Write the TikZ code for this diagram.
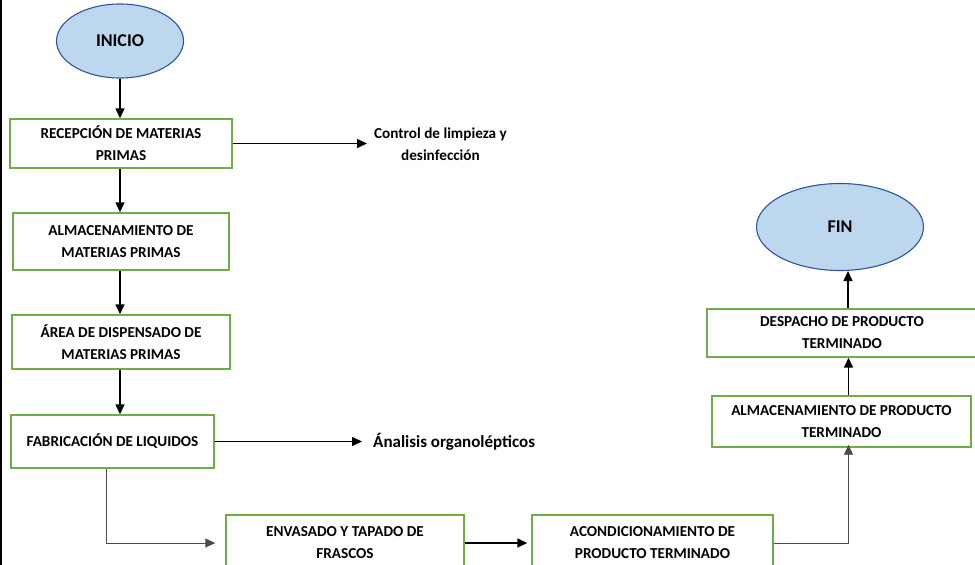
\documentclass[tikz,border=0pt]{standalone}
\usepackage{fontspec}
\setmainfont{Carlito}
\usetikzlibrary{arrows.meta,shapes.geometric}

\definecolor{boxgreen}{HTML}{70AD47}
\definecolor{termfill}{HTML}{BDD7EE}
\definecolor{termline}{HTML}{2F5597}

\begin{document}
\begin{tikzpicture}[x=1pt, y=-1pt,
          box/.style={draw=boxgreen, line width=1.4pt, fill=white, align=center, inner sep=0pt,
                      font=\fontsize{15.2}{22}\selectfont\bfseries},
          term/.style={ellipse, draw=termline, line width=1.1pt, fill=termfill, inner sep=0pt,
                       font=\fontsize{18}{22}\selectfont\bfseries},
          note/.style={align=center, anchor=west, inner sep=0pt},
          flow/.style={-{Triangle[length=10pt,width=9pt]}, line width=1.5pt},
          elbow/.style={-{Triangle[length=10pt,width=9pt]}, draw=black!70, line width=0.9pt},
        ]
          \useasboundingbox (0,0) rectangle (975,565);
          \clip (0,0) rectangle (975,565);
          \draw[line width=2pt] (1,0) -- (1,565);

          % left column
          \node[term, minimum width=127pt, minimum height=74pt] (inicio) at (120,41) {INICIO};
          \node[box, minimum width=222pt, minimum height=49pt] (recep) at (121,143.5) {RECEPCIÓN DE MATERIAS\\PRIMAS};
          \node[box, minimum width=216pt, minimum height=57pt] (almmp) at (121,241.5) {ALMACENAMIENTO DE\\MATERIAS PRIMAS};
          \node[box, minimum width=218pt, minimum height=54pt] (area) at (121,342) {ÁREA DE DISPENSADO DE\\MATERIAS PRIMAS};
          \node[box, minimum width=203pt, minimum height=53pt] (fab) at (112.5,441.5) {FABRICACIÓN DE LIQUIDOS};

          % side notes
          \node[note, font=\fontsize{15.2}{22}\selectfont\bfseries] (ctrl) at (374,144) {Control de limpieza y\\desinfección};
          \node[note, font=\fontsize{17}{20}\selectfont\bfseries] (organo) at (373,441.5) {Ánalisis organolépticos};

          % bottom row
          \node[box, minimum width=238pt, minimum height=56pt] (env) at (345,543) {ENVASADO Y TAPADO DE\\FRASCOS};
          \node[box, minimum width=241pt, minimum height=56pt] (acond) at (652.5,543) {ACONDICIONAMIENTO DE\\PRODUCTO TERMINADO};

          % right column
          \node[box, minimum width=259pt, minimum height=51pt] (almpt) at (841.5,421.5) {ALMACENAMIENTO DE PRODUCTO\\TERMINADO};
          \node[box, minimum width=270pt, minimum height=48pt] (desp) at (842,333) {DESPACHO DE PRODUCTO\\TERMINADO};
          \node[term, minimum width=167pt, minimum height=87pt] (fin) at (840,227) {FIN};

          \draw[flow] (inicio.south) -- (inicio.south |- recep.north);
          \draw[flow] (inicio.south |- recep.south) -- (inicio.south |- almmp.north);
          \draw[flow] (inicio.south |- almmp.south) -- (inicio.south |- area.north);
          \draw[flow] (inicio.south |- area.south) -- (inicio.south |- fab.north);
          \draw[flow] (recep.east) -- ([xshift=-7pt]recep.east -| ctrl.west);
          \draw[flow] (fab.east) -- ([xshift=-11pt]organo.west);
          \draw[elbow] ([xshift=-6.5pt]fab.south) |- ([xshift=-10pt]env.west);
          \draw[flow] (env) -- ([xshift=-4pt]acond.west);
          \draw[elbow] (acond.east) -| ([xshift=7pt,yshift=3pt]almpt.south);
          \draw[flow] ([xshift=7pt]almpt.north) -- ([xshift=7pt]almpt.north |- desp.south);
          \draw[flow] ([xshift=6pt]desp.north) -- ([xshift=6pt]desp.north |- fin.south);
        \end{tikzpicture}
\end{document}
